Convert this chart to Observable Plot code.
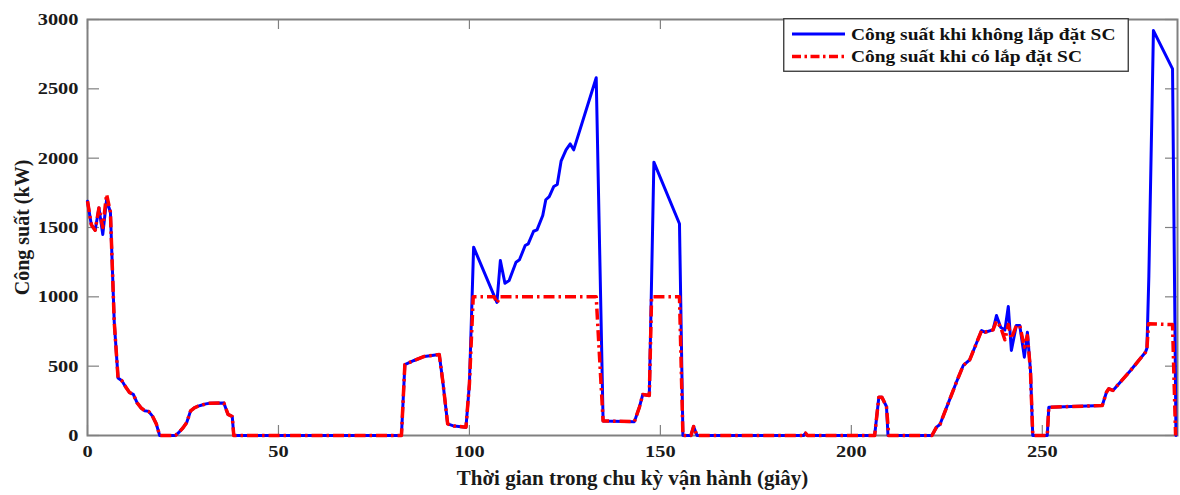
<!DOCTYPE html>
<html>
<head>
<meta charset="utf-8">
<script src="https://cdn.jsdelivr.net/npm/d3@7"></script>
<script src="https://cdn.jsdelivr.net/npm/@observablehq/plot@0.6"></script>
<style>
  body { margin: 0; background: #fff; }
  #wrap { position: relative; width: 1180px; height: 495px; overflow: hidden; }
  #legend { position: absolute; left: 783px; top: 18px; }
</style>
</head>
<body>
<div id="wrap"></div>
<script>
// ---- Data ----
// Power without supercapacitor (blue, solid)
const timeNoSC = [0,1,2,3,4,5,6,7,8,9,10,11,12,13,14,15,16,17,18,18.9,
  23,24,25,26,27,28,29,30,31,32,35.7,36.8,37.9,38.3,
  82.2,83.1,85.5,88.2,92.1,93,94.3,96,99.1,100,101.1,107.2,108.1,109.3,110.4,112.2,113.1,114.6,115.4,116.8,117.7,119.2,120,120.9,122.1,123,124,125.3,126.4,127.3,133.2,135,
  143.2,144.5,145.4,147.1,148.3,155,155.9,158,158.7,159.6,187.5,188,188.5,
  206.1,207.2,208,209.2,209.6,221.1,222.3,223.2,225.3,227.5,229.3,231,234.1,235,237.1,238,239.1,240.2,241.1,241.9,243.2,244.1,245.3,246.1,246.9,247.5,
  251.3,251.7,265.7,266.8,267.4,268.5,273.1,277,277.4,277.9,279.1,284.1,285];
const powerNoSC = [1690,1520,1480,1640,1450,1700,1610,820,415,395,350,310,296,235,200,178,174,140,85,0,
  0,25,55,95,178,200,212,220,228,233,235,152,137,0,
  0,512,541,570,584,397,84,68,60,373,1358,960,1262,1098,1118,1250,1267,1370,1382,1473,1483,1587,1700,1723,1796,1810,1978,2060,2103,2060,2580,105,
  100,204,296,288,1971,1527,0,0,65,0,0,17,0,
  0,276,276,209,0,0,60,79,228,384,505,546,757,745,762,865,781,760,930,613,793,793,565,745,470,0,
  0,204,216,312,337,325,469,600,630,1150,2920,2644,0];

// Power with supercapacitor (red, dash-dot)
const timeSC = [0,1,2,3,4,5,6,7,8,9,10,11,12,13,14,15,16,17,18,18.9,
  23,24,25,26,27,28,29,30,31,32,35.7,36.8,37.9,38.3,
  82.2,83.1,85.5,88.2,92.1,93,94.3,96,99.1,100,101,106.5,107.2,108,133.2,133.4,135,
  143.2,144.5,145.4,147.1,147.7,155,155.9,158,158.7,159.6,187.5,188,188.5,
  206.1,207.2,208,209.2,209.8,221.1,222.3,223.2,225.3,227.5,229.3,231,234.1,235,237.1,238,239.1,240.2,241.1,241.9,243.2,244.1,245.3,246.1,246.9,247.5,
  251.3,251.7,265.7,266.8,267.4,268.5,273.1,277,277.4,277.8,284.1,284.9];
const powerSC = [1690,1520,1480,1640,1500,1740,1610,820,415,395,350,310,296,235,200,178,174,140,85,0,
  0,25,55,95,178,200,212,220,228,233,235,152,137,0,
  0,512,541,570,584,397,84,68,60,373,1000,1000,955,1000,1000,900,105,
  100,204,296,288,1000,1000,0,0,65,0,0,17,0,
  0,276,276,209,0,0,60,79,228,384,505,546,757,745,762,825,781,690,800,700,793,793,637,720,470,0,
  0,204,216,312,337,325,469,600,630,805,800,0];

const xTicks = [0, 50, 100, 150, 200, 250];
const yTicks = [0, 500, 1000, 1500, 2000, 2500, 3000];
const xLabel = "Thời gian trong chu kỳ vận hành (giây)";
const yLabel = "Công suất (kW)";
const seriesNames = ["Công suất khi không lắp đặt SC", "Công suất khi có lắp đặt SC"];
const seriesColors = ["#0000ff", "#ff0000"];

// ---- Build tables ----
const noSC = timeNoSC.map((t, i) => ({t, p: powerNoSC[i]}));
const withSC = timeSC.map((t, i) => ({t, p: powerSC[i]}));

const X_MAX = 285.4, Y_MAX = 3000;
const W = 1180, H = 495, mL = 87, mR = 3, mT = 19, mB = 60;
const unitX = X_MAX / (W - mL - mR);   // data units per pixel
const unitY = Y_MAX / (H - mT - mB);
const FONT = "'Liberation Serif','Times New Roman',serif";
const STRETCH = 1.2;
const GRAY = "#808080";
const RED_DASH = "11,4,2.5,4";

const chart = Plot.plot({
  width: W, height: H,
  marginLeft: mL, marginRight: mR, marginTop: mT, marginBottom: mB,
  style: {fontFamily: FONT, fontWeight: "bold", background: "#fff", color: "#1a1a1a"},
  x: {domain: [0, X_MAX]},
  y: {domain: [0, Y_MAX]},
  marks: [
    Plot.frame({stroke: GRAY, strokeWidth: 2}),
    // inward ticks on all four sides
    Plot.ruleX(xTicks, {x: d => d, y1: 0, y2: 10 * unitY, stroke: GRAY, strokeWidth: 1.2}),
    Plot.ruleX(xTicks, {x: d => d, y1: Y_MAX - 10 * unitY, y2: Y_MAX, stroke: GRAY, strokeWidth: 1.2}),
    Plot.ruleY(yTicks, {y: d => d, x1: 0, x2: 12 * unitX, stroke: GRAY, strokeWidth: 1.2}),
    Plot.ruleY(yTicks, {y: d => d, x1: X_MAX - 12 * unitX, x2: X_MAX, stroke: GRAY, strokeWidth: 1.2}),
    Plot.axisX({ticks: xTicks, tickSize: 0, tickPadding: 9, fontSize: 17, label: null, tickFormat: d => String(d)}),
    Plot.axisY({ticks: yTicks, tickSize: 0, tickPadding: 9, fontSize: 17, label: null, tickFormat: d => String(d)}),
    Plot.line(noSC, {x: "t", y: "p", stroke: seriesColors[0], strokeWidth: 3}),
    Plot.line(withSC, {x: "t", y: "p", stroke: seriesColors[1], strokeWidth: 3.5, strokeDasharray: RED_DASH, strokeLinecap: "butt"}),
    Plot.text([xLabel], {frameAnchor: "bottom", dy: 43, text: d => d, fontSize: 21, lineAnchor: "middle", textAnchor: "middle"}),
    Plot.text([yLabel], {frameAnchor: "left", dx: -65, rotate: -90, text: d => d, fontSize: 20, lineAnchor: "middle", textAnchor: "middle"})
  ]
});

// Reference tick labels are horizontally stretched: stretch them the same way
const root = d3.select(chart);
root.selectAll('g[aria-label="x-axis tick label"] text, g[aria-label="y-axis tick label"] text')
  .each(function() {
    const t = this.getAttribute("transform") || "";
    this.setAttribute("transform", t + ` scale(${STRETCH},1)`);
  });

const wrap = document.getElementById("wrap");
wrap.appendChild(chart);

// ---- Legend (overlay box, top right) ----
const LW = 346, LH = 54;
const leg = d3.create("svg").attr("id", "legend").attr("width", LW).attr("height", LH)
  .style("font-family", FONT).style("font-weight", "bold");
leg.append("rect").attr("x", 0.75).attr("y", 0.75).attr("width", LW - 1.5).attr("height", LH - 1.5)
  .attr("fill", "#fff").attr("stroke", "#333").attr("stroke-width", 1.3);
const rowsY = [16, 38.5];
seriesNames.forEach((name, i) => {
  leg.append("line").attr("x1", 9).attr("x2", 62).attr("y1", rowsY[i]).attr("y2", rowsY[i])
    .attr("stroke", seriesColors[i]).attr("stroke-width", i === 0 ? 3 : 3.5)
    .attr("stroke-dasharray", i === 0 ? null : "9,3.5,2.5,3.5");
  leg.append("text").attr("transform", `translate(68,${rowsY[i]}) scale(${STRETCH},1)`)
    .attr("dy", "0.35em").attr("font-size", 16.2).attr("fill", "#111").text(name);
});
wrap.appendChild(leg.node());
</script>
</body>
</html>
